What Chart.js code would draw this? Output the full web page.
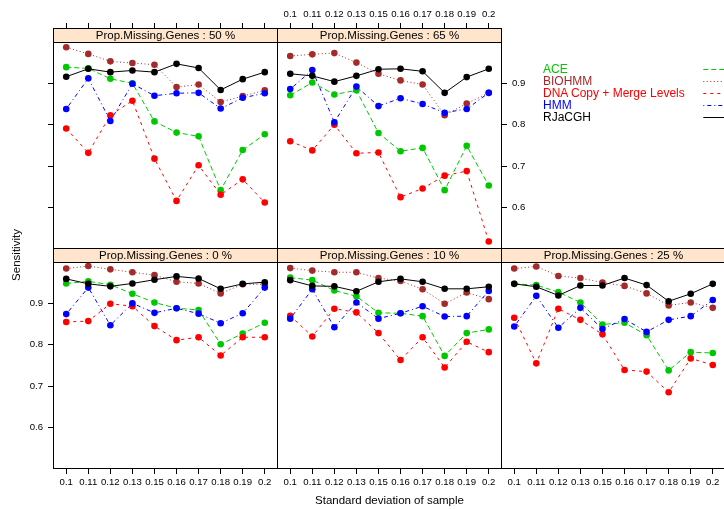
<!DOCTYPE html>
<html><head><meta charset="utf-8">
<script src="https://cdn.jsdelivr.net/npm/chart.js@4/dist/chart.umd.min.js"></script>
<style>
html,body{margin:0;padding:0;background:#fff;width:724px;height:509px;overflow:hidden;}
#wrap{position:relative;width:724px;height:509px;overflow:hidden;font-family:"Liberation Sans",Arial,Helvetica,sans-serif;color:#000;}
.pc{position:absolute;}
.lbl{position:absolute;white-space:nowrap;color:#000;}
</style></head><body><div id="wrap"></div>
<script>
// ---------- data ----------
const sdLevels = ['0.1','0.11','0.12','0.13','0.15','0.16','0.17','0.18','0.19','0.2'];
const panelNames = ['0 %','10 %','25 %','50 %','65 %'];
const methodNames = ['ACE','BIOHMM','DNA Copy + Merge Levels','HMM','RJaCGH'];
const yTickValues = [0.6, 0.7, 0.8, 0.9];

// rows follow panelNames order
const ACE = [
 [0.948,0.953,0.945,0.923,0.902,0.888,0.884,0.801,0.827,0.853],
 [0.962,0.956,0.931,0.917,0.877,0.876,0.869,0.773,0.828,0.837],
 [0.947,0.944,0.927,0.902,0.849,0.853,0.823,0.738,0.782,0.780],
 [0.939,0.936,0.911,0.900,0.808,0.781,0.772,0.642,0.739,0.777],
 [0.871,0.902,0.873,0.883,0.780,0.736,0.744,0.642,0.749,0.653]
];
const BIOHMM = [
 [0.984,0.990,0.982,0.975,0.968,0.952,0.948,0.924,0.946,0.946],
 [0.985,0.979,0.975,0.975,0.961,0.954,0.934,0.899,0.926,0.910],
 [0.984,0.989,0.966,0.961,0.950,0.942,0.924,0.895,0.902,0.889],
 [0.987,0.971,0.953,0.949,0.945,0.891,0.897,0.855,0.869,0.883],
 [0.966,0.970,0.973,0.950,0.923,0.907,0.897,0.823,0.851,0.877]
];
const DNACOPY = [
 [0.855,0.857,0.899,0.893,0.845,0.811,0.818,0.774,0.818,0.818],
 [0.870,0.820,0.887,0.878,0.828,0.763,0.818,0.745,0.807,0.782],
 [0.865,0.755,0.887,0.860,0.825,0.739,0.735,0.685,0.767,0.751],
 [0.791,0.732,0.823,0.858,0.718,0.616,0.702,0.631,0.668,0.612],
 [0.760,0.738,0.800,0.731,0.733,0.625,0.646,0.677,0.688,0.518]
];
const HMM = [
 [0.874,0.938,0.847,0.900,0.877,0.888,0.875,0.852,0.876,0.938],
 [0.863,0.934,0.842,0.902,0.863,0.876,0.893,0.868,0.869,0.930],
 [0.844,0.918,0.841,0.889,0.838,0.862,0.831,0.860,0.869,0.908],
 [0.838,0.912,0.809,0.899,0.870,0.876,0.877,0.839,0.865,0.876],
 [0.886,0.932,0.806,0.892,0.845,0.864,0.850,0.829,0.838,0.877]
];
const RJACGH = [
 [0.959,0.947,0.941,0.948,0.957,0.965,0.960,0.935,0.947,0.951],
 [0.956,0.942,0.941,0.929,0.952,0.959,0.952,0.935,0.935,0.940],
 [0.947,0.940,0.919,0.943,0.943,0.961,0.944,0.905,0.923,0.947],
 [0.916,0.935,0.927,0.931,0.927,0.947,0.937,0.884,0.910,0.927],
 [0.923,0.918,0.904,0.918,0.934,0.935,0.929,0.877,0.915,0.935]
];

// ---------- styling ----------
const FONT = '"Liberation Sans", Arial, Helvetica, sans-serif';
const seriesStyle = [
  {data: ACE,     color:'#00C800', dash:[5,3]},
  {data: BIOHMM,  color:'#A52A2A', dash:[1,2.5]},
  {data: DNACOPY, color:'#FF0000', dash:[3,4]},
  {data: HMM,     color:'#0000FF', dash:[1,3,4,3]},
  {data: RJACGH,  color:'#000000', dash:[]}
];
const Y_MIN = 0.4998, Y_MAX = 1.0336;
const X_MIN = -0.6, X_MAX = 9.6;
const STRIP_H = 14;
const AX_W = 40, AX_H = 30;
const AREA_W = 225, AREA_H = 221;
const colLeft = [53, 277, 501];
const rowTop = [28, 248];

// panel placement and which axes show ticks/labels
const panels = [
  {p:0, col:0, row:1, L:[1,1], R:[0,0], T:[0,0], B:[1,1]},
  {p:1, col:1, row:1, L:[0,0], R:[0,0], T:[0,0], B:[1,1]},
  {p:2, col:2, row:1, L:[0,0], R:[1,0], T:[0,0], B:[1,1]},
  {p:3, col:0, row:0, L:[1,0], R:[0,0], T:[1,0], B:[0,0]},
  {p:4, col:1, row:0, L:[0,0], R:[1,1], T:[1,1], B:[0,0]}
];

const framePlugin = {
  id: 'frame',
  beforeDatasetsDraw(chart, args, opts) {
    const {ctx, chartArea: a} = chart;
    ctx.save();
    ctx.fillStyle = '#FFE5CC';
    ctx.fillRect(a.left + 0.5, a.top + 0.5, a.right - a.left - 1, STRIP_H);
    ctx.strokeStyle = '#000'; ctx.lineWidth = 1;
    ctx.beginPath();
    ctx.moveTo(a.left, a.top + 0.5 + STRIP_H);
    ctx.lineTo(a.right, a.top + 0.5 + STRIP_H);
    ctx.stroke();
    ctx.fillStyle = '#000';
    ctx.font = '11.5px ' + FONT;
    ctx.textAlign = 'center'; ctx.textBaseline = 'middle';
    ctx.fillText(opts.title, (a.left + a.right) / 2, a.top + 1 + STRIP_H / 2);
    ctx.restore();
  },
  afterDatasetsDraw(chart) {
    const {ctx, chartArea: a} = chart;
    ctx.save();
    ctx.strokeStyle = '#000'; ctx.lineWidth = 1;
    ctx.strokeRect(a.left + 0.5, a.top + 0.5, a.right - a.left - 1, a.bottom - a.top - 1);
    ctx.restore();
  }
};

function tickFont() { return {family: FONT, size: 9.6}; }

function xAxis(pos, flags) {
  return {
    type: 'linear', position: pos, min: X_MIN, max: X_MAX, bounds: 'data',
    afterBuildTicks: s => { s.ticks = sdLevels.map((_, i) => ({value: i})); },
    afterFit: s => { s.height = AX_H; },
    grid: {display: !!flags[0], drawOnChartArea: false, drawTicks: true, tickLength: 5, color: '#000', lineWidth: 1},
    border: {display: false},
    ticks: {display: !!flags[1], autoSkip: false, maxRotation: 0, minRotation: 0, padding: 3,
            color: '#000', font: tickFont(), callback: (v) => sdLevels[Math.round(v)]}
  };
}
function yAxis(pos, flags) {
  return {
    type: 'linear', position: pos, min: Y_MIN, max: Y_MAX, bounds: 'data',
    afterBuildTicks: s => { s.ticks = yTickValues.map(v => ({value: v})); },
    afterFit: s => { s.width = AX_W; },
    grid: {display: !!flags[0], drawOnChartArea: false, drawTicks: true, tickLength: 5, color: '#000', lineWidth: 1},
    border: {display: false},
    ticks: {display: !!flags[1], padding: 5, color: '#000', font: tickFont(), callback: (v) => v.toFixed(1)}
  };
}

const wrap = document.getElementById('wrap');
panels.forEach(pl => {
  const cv = document.createElement('canvas');
  const w = AREA_W + 2 * AX_W, h = AREA_H + 2 * AX_H;
  cv.width = w; cv.height = h;
  cv.className = 'pc';
  cv.style.left = (colLeft[pl.col] - AX_W) + 'px';
  cv.style.top = (rowTop[pl.row] - AX_H) + 'px';
  cv.style.width = w + 'px'; cv.style.height = h + 'px';
  wrap.appendChild(cv);
  const datasets = seriesStyle.map((s, k) => ({
    label: methodNames[k],
    data: s.data[pl.p].map((v, i) => ({x: i, y: v})),
    borderColor: s.color, backgroundColor: s.color,
    pointBackgroundColor: s.color, pointBorderColor: s.color,
    borderWidth: 1, borderDash: s.dash, pointRadius: 3.3, pointBorderWidth: 0,
    pointHoverRadius: 3.3, tension: 0, fill: false,
    xAxisID: 'xB', yAxisID: 'yL', order: 4 - k
  }));
  new Chart(cv, {
    type: 'line',
    data: {datasets},
    options: {
      responsive: false, animation: false, devicePixelRatio: 1,
      layout: {padding: 0},
      events: [],
      plugins: {legend: {display: false}, tooltip: {enabled: false},
                frame: {title: 'Prop.Missing.Genes : ' + panelNames[pl.p]}},
      scales: {
        xB: xAxis('bottom', pl.B),
        xT: xAxis('top', pl.T),
        yL: yAxis('left', pl.L),
        yR: yAxis('right', pl.R)
      }
    },
    plugins: [framePlugin]
  });
});

// legend (text)
const legendTop = 69.3, legendStep = 11.85;
methodNames.forEach((name, k) => {
  const d = document.createElement('div');
  d.className = 'lbl';
  d.textContent = name;
  d.style.font = '12px ' + FONT;
  d.style.lineHeight = '12px';
  d.style.left = '543px';
  d.style.top = (legendTop + k * legendStep - 5.9) + 'px';
  d.style.color = seriesStyle[k].color === '#00C800' ? '#00C800' : seriesStyle[k].color;
  wrap.appendChild(d);
});
// legend line samples
const lc = document.createElement('canvas');
lc.width = 30; lc.height = 70;
lc.style.position = 'absolute'; lc.style.left = '700px'; lc.style.top = '58px';
wrap.appendChild(lc);
const lx = lc.getContext('2d');
seriesStyle.forEach((s, k) => {
  const y = Math.round(legendTop + k * legendStep - 58) + 0.5;
  lx.strokeStyle = s.color; lx.lineWidth = 1; lx.setLineDash(s.dash);
  lx.beginPath(); lx.moveTo(3.3, y); lx.lineTo(30, y); lx.stroke();
});

// axis titles
const xt = document.createElement('div');
xt.className = 'lbl'; xt.textContent = 'Standard deviation of sample';
xt.style.font = '11.5px ' + FONT; xt.style.lineHeight = '14px';
xt.style.left = (389.5 - 200) + 'px'; xt.style.width = '400px'; xt.style.textAlign = 'center';
xt.style.top = (500 - 7) + 'px';
wrap.appendChild(xt);

const yt = document.createElement('div');
yt.className = 'lbl'; yt.textContent = 'Sensitivity';
yt.style.font = '11.5px ' + FONT; yt.style.lineHeight = '14px';
yt.style.width = '120px'; yt.style.height = '14px'; yt.style.textAlign = 'center';
yt.style.left = (15.5 - 60) + 'px'; yt.style.top = (255 - 7) + 'px';
yt.style.transform = 'rotate(-90deg)';
wrap.appendChild(yt);
</script>
</body></html>
